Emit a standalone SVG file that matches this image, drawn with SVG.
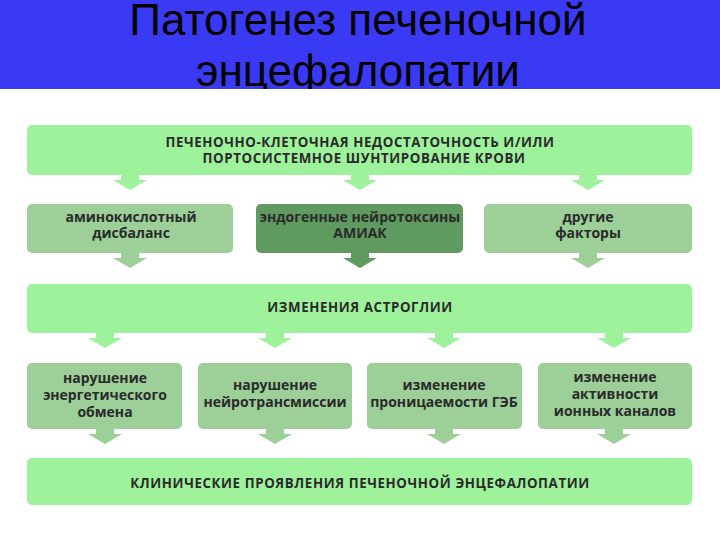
<svg xmlns="http://www.w3.org/2000/svg" width="720" height="540" viewBox="0 0 720 540">
<style>
.title{font-family:"Liberation Sans",Arial,sans-serif;font-size:44px;fill:#000;text-anchor:middle}
.t{font-family:"Open Sans","DejaVu Sans",sans-serif;font-weight:bold;fill:#2a2a2a;text-anchor:middle}
.caps{font-size:13.3px;letter-spacing:0.6px}
.low{font-size:14px}
.light{fill:#9ef29b}
.med{fill:#9dcf99}
.dark{fill:#5f9a60}
</style>
<defs>
<path id="arr" d="M-9,0 h18 v5 h8 l-17,10 l-17,-10 h8 z"/>
</defs>
<rect x="0" y="0" width="720" height="540" fill="#ffffff"/>
<g id="title">
<rect x="0" y="0" width="720" height="89" fill="#3a3af5"/>
<text class="title" x="358" y="35">Патогенез печеночной</text>
<text class="title" x="358" y="86">энцефалопатии</text>
<rect x="0" y="89" width="720" height="12" fill="#ffffff"/>
</g>
<g id="connectors">
<use href="#arr" class="light" x="130" y="175"/>
<use href="#arr" class="light" x="360" y="175"/>
<use href="#arr" class="light" x="588" y="175"/>
<use href="#arr" class="med" x="130" y="253"/>
<use href="#arr" class="dark" x="360" y="253"/>
<use href="#arr" class="med" x="588" y="253"/>
<use href="#arr" class="light" x="105" y="333"/>
<use href="#arr" class="light" x="275" y="333"/>
<use href="#arr" class="light" x="444" y="333"/>
<use href="#arr" class="light" x="614" y="333"/>
<use href="#arr" class="med" x="105" y="429"/>
<use href="#arr" class="med" x="275" y="429"/>
<use href="#arr" class="med" x="444" y="429"/>
<use href="#arr" class="med" x="614" y="429"/>
</g>
<g id="n1">
<rect class="light" x="27" y="125" width="665" height="50" rx="5"/>
<text class="t caps" x="360" y="146.5">ПЕЧЕНОЧНО-КЛЕТОЧНАЯ НЕДОСТАТОЧНОСТЬ И/ИЛИ</text>
<text class="t caps" x="364" y="163">ПОРТОСИСТЕМНОЕ ШУНТИРОВАНИЕ КРОВИ</text>
</g>
<g id="n2">
<rect class="med" x="27" y="204" width="206" height="49" rx="5"/>
<text class="t low" x="131" y="222">аминокислотный</text>
<text class="t low" x="131" y="238">дисбаланс</text>
</g>
<g id="n3">
<rect class="dark" x="256" y="204" width="207" height="49" rx="5"/>
<text class="t low" x="360" y="222">эндогенные нейротоксины</text>
<text class="t low" x="360" y="238">АМИАК</text>
</g>
<g id="n4">
<rect class="med" x="484" y="204" width="208" height="49" rx="5"/>
<text class="t low" x="588" y="222">другие</text>
<text class="t low" x="588" y="238">факторы</text>
</g>
<g id="n5">
<rect class="light" x="27" y="284" width="665" height="49" rx="5"/>
<text class="t caps" x="360" y="312">ИЗМЕНЕНИЯ АСТРОГЛИИ</text>
</g>
<g id="n6">
<rect class="med" x="27" y="363" width="155" height="66" rx="5"/>
<text class="t low" x="105" y="383">нарушение</text>
<text class="t low" x="105" y="400">энергетического</text>
<text class="t low" x="105" y="417">обмена</text>
</g>
<g id="n7">
<rect class="med" x="198" y="363" width="154" height="66" rx="5"/>
<text class="t low" x="275" y="390">нарушение</text>
<text class="t low" x="275" y="407">нейротрансмиссии</text>
</g>
<g id="n8">
<rect class="med" x="367" y="363" width="155" height="66" rx="5"/>
<text class="t low" x="444" y="390">изменение</text>
<text class="t low" x="444" y="407">проницаемости ГЭБ</text>
</g>
<g id="n9">
<rect class="med" x="538" y="363" width="154" height="66" rx="5"/>
<text class="t low" x="615" y="382">изменение</text>
<text class="t low" x="615" y="399">активности</text>
<text class="t low" x="615" y="416">ионных каналов</text>
</g>
<g id="n10">
<rect class="light" x="27" y="458" width="665" height="47" rx="5"/>
<text class="t caps" x="360" y="488">КЛИНИЧЕСКИЕ ПРОЯВЛЕНИЯ ПЕЧЕНОЧНОЙ ЭНЦЕФАЛОПАТИИ</text>
</g>
</svg>
